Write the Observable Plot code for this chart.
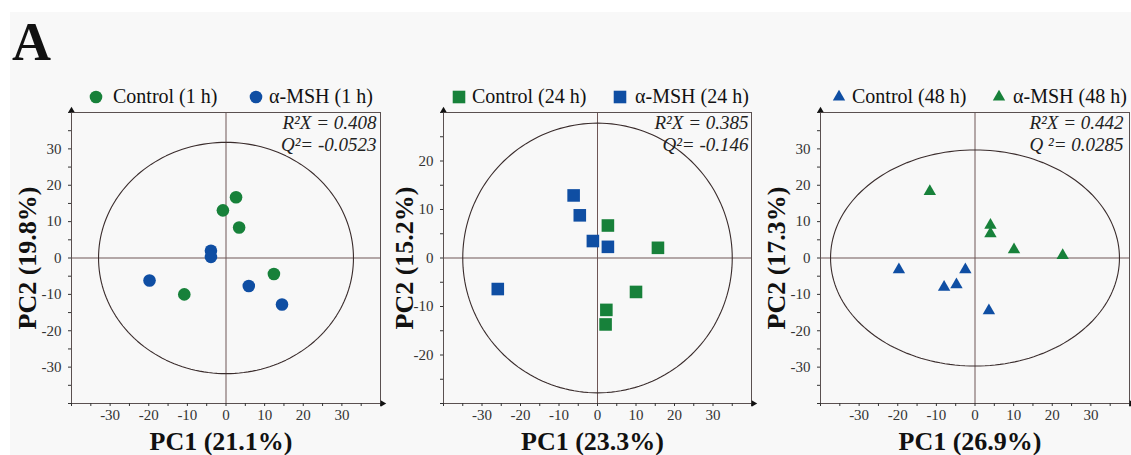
<!DOCTYPE html>
<html>
<head>
<meta charset="utf-8">
<script src="https://cdn.jsdelivr.net/npm/d3@7"></script>
<script src="https://cdn.jsdelivr.net/npm/@observablehq/plot@0.6"></script>
<style>
html,body{margin:0;padding:0;background:#fff;}
#fig{position:relative;width:1131px;height:455px;overflow:hidden;font-family:"Liberation Serif","Times New Roman",serif;color:#111;}
#bg{position:absolute;left:10px;top:12px;right:0;bottom:0;background:#f8f8f8;}
#title{position:absolute;left:12px;top:15px;font-size:54px;line-height:54px;font-weight:bold;}
.panel{position:absolute;top:80px;}
.panel text{font-family:"Liberation Serif","Times New Roman",serif !important;font-variant:normal !important;}
.legtext{position:absolute;top:86px;font-size:20px;line-height:20px;white-space:nowrap;}
.legsym{position:absolute;overflow:visible;}
</style>
</head>
<body>
<div id="fig">
  <div id="bg"></div>
  <div id="title">A</div>
</div>
<script>
// ---------------- data ----------------
const groups = ["Control", "α-MSH"];
const times = ["1 h", "24 h", "48 h"];

// Panel 1 (1 h)
const ctrl1PC1 = [2.6, -0.8, 3.4, 12.4, -10.8];
const ctrl1PC2 = [16.7, 13.1, 8.4, -4.4, -10.0];
const msh1PC1 = [-3.9, -3.9, -19.8, 5.9, 14.5];
const msh1PC2 = [2.0, 0.3, -6.2, -7.7, -12.8];
// Panel 2 (24 h)
const ctrl24PC1 = [2.7, 15.7, 10.0, 2.3, 2.1];
const ctrl24PC2 = [6.7, 2.1, -7.0, -10.7, -13.7];
const msh24PC1 = [-6.2, -4.6, -1.2, 2.7, -25.9];
const msh24PC2 = [12.9, 8.8, 3.5, 2.3, -6.4];
// Panel 3 (48 h)
const ctrl48PC1 = [-19.7, -8.0, -4.8, -2.5, 3.6];
const ctrl48PC2 = [-3.2, -8.0, -7.3, -3.2, -14.5];
const msh48PC1 = [-11.7, 4.0, 4.0, 10.1, 22.7];
const msh48PC2 = [18.3, 9.0, 6.7, 2.3, 0.7];

const pc1Labels = ["PC1 (21.1%)", "PC1 (23.3%)", "PC1 (26.9%)"];
const pc2Labels = ["PC2 (19.8%)", "PC2 (15.2%)", "PC2 (17.3%)"];
const r2xText = ["R²X = 0.408", "R²X = 0.385", "R²X = 0.442"];
const q2Text = ["Q²= -0.0523", "Q²= -0.146", "Q ²= 0.0285"];

// Hotelling ellipse semi-axes (PC1, PC2 units)
const ellipseRx = [33, 35, 37.4];
const ellipseRy = [31.8, 27.8, 29.7];

const xDomain = [-40, 40];
const yDomains = [[-40, 40], [-30, 30], [-40, 40]];
const xTickLabels = [-30, -20, -10, 0, 10, 20, 30];
const yTickLabels = [[-30, -20, -10, 0, 10, 20, 30], [-20, -10, 0, 10, 20], [-30, -20, -10, 0, 10, 20, 30]];
const tickStep = 5;

const green = "#17813a";
const blue = "#0f4ea3";

// ---------------- layout/style per panel ----------------
const panels = [
  {left: 0,   width: 390, ml: 71, mr: 10, symbol: "circle",   r: 6.3, colors: [green, blue],
   ctrl: [ctrl1PC1, ctrl1PC2], msh: [msh1PC1, msh1PC2], annDx: -4, ylabDx: -44,
   leg: [[96, 113], [255.5, 269]]},
  {left: 380, width: 380, ml: 63, mr: 9,  symbol: "square",   r: 7.1, colors: [green, blue],
   ctrl: [ctrl24PC1, ctrl24PC2], msh: [msh24PC1, msh24PC2], annDx: -3, ylabDx: -39,
   leg: [[458.5, 472], [620, 635]]},
  {left: 757, width: 374, ml: 63, mr: 2,  symbol: "triangle", r: 4.6, colors: [blue, green],
   ctrl: [ctrl48PC1, ctrl48PC2], msh: [msh48PC1, msh48PC2], annDx: -6, ylabDx: -44,
   leg: [[838.5, 852], [998.5, 1013]]}
];

const fig = document.getElementById("fig");
const font = "'Liberation Serif', 'Times New Roman', serif";
const symbolTypes = {circle: d3.symbolCircle, square: d3.symbolSquare, triangle: d3.symbolTriangle};

panels.forEach((p, i) => {
  const pts = [];
  p.ctrl[0].forEach((v, j) => pts.push({pc1: v, pc2: p.ctrl[1][j], group: groups[0]}));
  p.msh[0].forEach((v, j) => pts.push({pc1: v, pc2: p.msh[1][j], group: groups[1]}));
  const yDomain = yDomains[i];
  const ell = d3.range(0, 361, 2).map(a => ({
    x: ellipseRx[i] * Math.cos(a * Math.PI / 180),
    y: ellipseRy[i] * Math.sin(a * Math.PI / 180)
  }));
  const xTicks = d3.range(xDomain[0], xDomain[1] + 0.1, tickStep);
  const yTicks = d3.range(yDomain[0], yDomain[1] + 0.1, tickStep);

  const chart = Plot.plot({
    width: p.width,
    height: 375,
    marginLeft: p.ml,
    marginRight: p.mr,
    marginTop: 32,
    marginBottom: 52,
    x: {domain: xDomain},
    y: {domain: yDomain},
    color: {domain: groups, range: p.colors},
    style: {fontFamily: font, background: "transparent", color: "#222", overflow: "visible"},
    marks: [
      Plot.ruleX([0], {stroke: "#6e5656", strokeWidth: 1}),
      Plot.ruleY([0], {stroke: "#6e5656", strokeWidth: 1}),
      Plot.line(ell, {x: "x", y: "y", stroke: "#3a2c2c", strokeWidth: 1.1}),
      Plot.dot(pts, {x: "pc1", y: "pc2", symbol: p.symbol, fill: "group", r: p.r, stroke: "none"}),
      Plot.frame({stroke: "#5a5050", strokeWidth: 1}),
      Plot.axisX({ticks: xTicks, tickFormat: d => xTickLabels.includes(d) ? String(d) : "",
        tickSize: 3, tickPadding: 3, fontSize: 15, fontFamily: font, label: null, color: "#333"}),
      Plot.axisY({ticks: yTicks, tickFormat: d => yTickLabels[i].includes(d) ? String(d) : "",
        tickSize: 3, tickPadding: 7, fontSize: 15, fontFamily: font, label: null, color: "#333"}),
      // axis arrows
      Plot.dot([0], {x: xDomain[0], y: yDomain[1], symbol: "triangle", r: 2.4, fill: "#111", dy: -2}),
      Plot.dot([0], {x: xDomain[1], y: yDomain[0], symbol: "triangle", r: 2.4, fill: "#111", rotate: 90, dx: 2}),
      // axis titles
      Plot.text([pc1Labels[i]], {frameAnchor: "bottom", lineAnchor: "middle", dy: 38, dx: -5,
        fontSize: 26, fontWeight: "bold", fontFamily: font, fill: "#111"}),
      Plot.text([pc2Labels[i]], {frameAnchor: "left", lineAnchor: "middle", textAnchor: "middle",
        rotate: -90, dx: p.ylabDx, fontSize: 26, fontWeight: "bold", fontFamily: font, fill: "#111"}),
      // model statistics
      Plot.text([r2xText[i]], {frameAnchor: "top-right", lineAnchor: "middle", textAnchor: "end",
        dx: p.annDx, dy: 10, fontSize: 19, fontStyle: "italic", fontFamily: font, fill: "#222"}),
      Plot.text([q2Text[i]], {frameAnchor: "top-right", lineAnchor: "middle", textAnchor: "end",
        dx: p.annDx, dy: 32.5, fontSize: 19, fontStyle: "italic", fontFamily: font, fill: "#222"})
    ]
  });
  chart.classList.add("panel");
  chart.style.left = p.left + "px";
  fig.appendChild(chart);

  // legend (above the plot)
  groups.forEach((g, k) => {
    const [sx, tx] = p.leg[k];
    const size = Math.PI * p.r * p.r;
    const svg = d3.create("svg").attr("class", "legsym")
      .attr("width", 20).attr("height", 20)
      .style("left", (sx - 10) + "px").style("top", (97 - 10) + "px");
    svg.append("path")
      .attr("transform", "translate(10,10)")
      .attr("d", d3.symbol(symbolTypes[p.symbol], size)())
      .attr("fill", p.colors[k]);
    fig.appendChild(svg.node());
    const span = document.createElement("div");
    span.className = "legtext";
    span.style.left = tx + "px";
    span.textContent = `${g} (${times[i]})`;
    fig.appendChild(span);
  });
});
</script>
</body>
</html>
